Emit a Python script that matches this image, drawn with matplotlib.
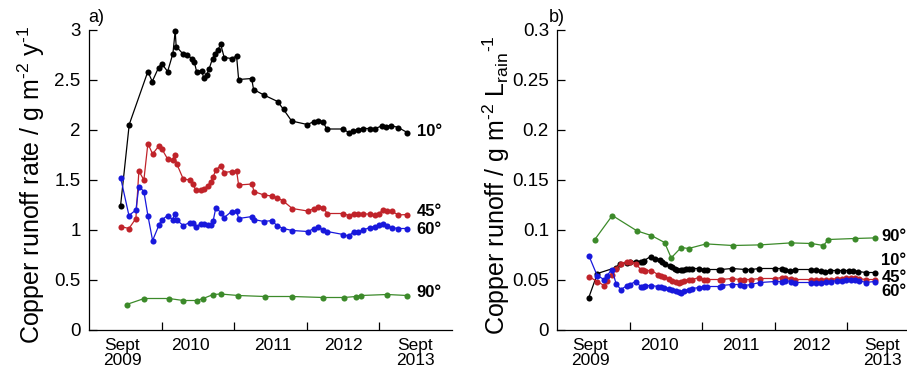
import matplotlib
matplotlib.use("Agg")
import matplotlib.pyplot as plt
from matplotlib.ticker import FixedLocator, FuncFormatter

plt.rcParams['font.family'] = ['Liberation Sans', 'DejaVu Sans']
plt.rcParams['mathtext.default'] = 'regular'
plt.rcParams['mathtext.fontset'] = 'custom'
plt.rcParams['mathtext.rm'] = 'Liberation Sans'

# ---------------- data ----------------
# dates as decimal years
dates_10 = [2009.435, 2009.554, 2009.811, 2009.871, 2009.959, 2010.000, 2010.083, 2010.156, 2010.187, 2010.201,
            2010.289, 2010.344, 2010.417, 2010.449, 2010.482, 2010.551, 2010.579, 2010.620, 2010.656, 2010.702,
            2010.734, 2010.776, 2010.813, 2010.862, 2010.964, 2011.033, 2011.061, 2011.240, 2011.267, 2011.409,
            2011.598, 2011.680, 2011.791, 2012.006, 2012.102, 2012.149, 2012.218, 2012.277, 2012.501, 2012.576,
            2012.639, 2012.700, 2012.769, 2012.869, 2012.942, 2013.030, 2013.090, 2013.158, 2013.259, 2013.383]
rate_10 = [1.24, 2.05, 2.58, 2.48, 2.62, 2.66, 2.58, 2.76, 2.985, 2.83,
           2.76, 2.75, 2.71, 2.68, 2.58, 2.59, 2.52, 2.545, 2.61, 2.71,
           2.76, 2.795, 2.855, 2.72, 2.71, 2.735, 2.50, 2.51, 2.40, 2.345,
           2.28, 2.20, 2.085, 2.05, 2.08, 2.09, 2.08, 2.005, 2.005, 1.97,
           1.985, 2.00, 2.01, 2.01, 2.01, 2.035, 2.03, 2.04, 2.02, 1.97]
runoff_10 = [0.032, 0.056, 0.062, 0.066, 0.067, 0.068, 0.068, 0.068, 0.068, 0.069,
             0.073, 0.071, 0.070, 0.068, 0.066, 0.064, 0.063, 0.061, 0.060, 0.060,
             0.060, 0.061, 0.061, 0.061, 0.061, 0.060, 0.060, 0.060, 0.060, 0.061,
             0.060, 0.060, 0.061, 0.061, 0.061, 0.060, 0.059, 0.060, 0.060, 0.060,
             0.059, 0.058, 0.059, 0.059, 0.059, 0.059, 0.059, 0.058, 0.057, 0.057]

dates_45_60 = [2009.435, 2009.550, 2009.646, 2009.687, 2009.756, 2009.811, 2009.876, 2009.967, 2010.000, 2010.083,
               2010.152, 2010.179, 2010.207, 2010.298, 2010.390, 2010.427, 2010.472, 2010.541, 2010.587, 2010.634,
               2010.679, 2010.711, 2010.748, 2010.813, 2010.862, 2010.964, 2011.033, 2011.061, 2011.248, 2011.271,
               2011.409, 2011.523, 2011.584, 2011.675, 2011.799, 2012.011, 2012.102, 2012.149, 2012.226, 2012.281,
               2012.501, 2012.576, 2012.649, 2012.708, 2012.777, 2012.869, 2012.938, 2012.993, 2013.052, 2013.107,
               2013.168, 2013.259, 2013.383]
rate_45 = [1.03, 1.01, 1.11, 1.585, 1.495, 1.86, 1.755, 1.84, 1.81, 1.705,
           1.695, 1.745, 1.66, 1.505, 1.495, 1.455, 1.395, 1.40, 1.41, 1.435,
           1.48, 1.53, 1.595, 1.64, 1.57, 1.58, 1.585, 1.445, 1.455, 1.38,
           1.345, 1.335, 1.32, 1.285, 1.21, 1.185, 1.21, 1.23, 1.22, 1.16,
           1.16, 1.14, 1.16, 1.16, 1.155, 1.155, 1.145, 1.16, 1.195, 1.185,
           1.185, 1.145, 1.15]
runoff_45 = [0.053, 0.048, 0.044, 0.049, 0.055, 0.061, 0.066, 0.068, 0.068, 0.066,
             0.060, 0.060, 0.059, 0.059, 0.055, 0.054, 0.053, 0.051, 0.049, 0.048,
             0.047, 0.048, 0.049, 0.050, 0.050, 0.052, 0.050, 0.050, 0.050, 0.050,
             0.051, 0.050, 0.050, 0.050, 0.051, 0.051, 0.052, 0.052, 0.051, 0.050,
             0.050, 0.050, 0.050, 0.050, 0.050, 0.051, 0.051, 0.052, 0.052, 0.052,
             0.051, 0.050, 0.050]
rate_60 = [1.52, 1.14, 1.195, 1.43, 1.38, 1.14, 0.89, 1.05, 1.095, 1.14,
           1.10, 1.155, 1.095, 1.04, 1.07, 1.07, 1.03, 1.055, 1.055, 1.045,
           1.045, 1.09, 1.22, 1.17, 1.12, 1.18, 1.185, 1.11, 1.13, 1.10,
           1.08, 1.09, 1.04, 1.01, 0.99, 0.98, 1.01, 1.03, 0.995, 0.98,
           0.95, 0.935, 0.98, 0.98, 0.995, 1.02, 1.03, 1.045, 1.06, 1.035,
           1.02, 1.01, 1.01]
runoff_60 = [0.074, 0.054, 0.050, 0.054, 0.060, 0.046, 0.040, 0.044, 0.045, 0.048,
             0.043, 0.043, 0.044, 0.044, 0.043, 0.043, 0.042, 0.041, 0.040, 0.039,
             0.038, 0.037, 0.039, 0.040, 0.041, 0.042, 0.043, 0.043, 0.043, 0.044,
             0.045, 0.045, 0.044, 0.045, 0.047, 0.048, 0.048, 0.049, 0.048, 0.047,
             0.047, 0.047, 0.047, 0.048, 0.048, 0.049, 0.049, 0.050, 0.050, 0.050,
             0.049, 0.047, 0.048]

dates_90 = [2009.518, 2009.760, 2010.101, 2010.298, 2010.482, 2010.573, 2010.711, 2010.813, 2011.055,
            2011.423, 2011.799, 2012.226, 2012.511, 2012.676, 2012.745, 2013.107, 2013.383]
rate_90 = [0.25, 0.31, 0.31, 0.29, 0.29, 0.31, 0.35, 0.355, 0.34, 0.33, 0.33, 0.32, 0.32, 0.33, 0.34, 0.35, 0.34]
runoff_90 = [0.090, 0.114, 0.0986, 0.094, 0.087, 0.0716, 0.082, 0.081, 0.0856, 0.084, 0.0846, 0.0866,
             0.086, 0.084, 0.090, 0.091, 0.0916]

series_names = ['10°', '45°', '60°', '90°']
x_label_texts = ['Sept\n2009', '2010', '2011', '2012', 'Sept\n2013']
x_label_pos = [2009.454, 2010.404, 2011.533, 2012.511, 2013.49]
year_ticks = [2010, 2011, 2012, 2013]

# ---------------- style ----------------
colors = {'10°': '#000000', '45°': '#c0232a', '60°': '#1818dc', '90°': '#3c8a2a'}
W, H = 907, 376
fig = plt.figure(figsize=(W / 100, H / 100), dpi=100)

def fx(px):
    return px / W

def fy(py):
    return 1 - py / H

ax_a = fig.add_axes([fx(89), fy(329.5), fx(363), 300 / H])
ax_b = fig.add_axes([fx(557.3), fy(329.5), fx(362), 300 / H])

panels = [
    (ax_a, [rate_10, rate_45, rate_60, rate_90], (0, 3), [0, 0.5, 1, 1.5, 2, 2.5, 3],
     r'Copper runoff rate / g m$^{\text{-}2}$ y$^{\text{-}1}$', 'a)', 88,
     [1.975, 1.185, 0.995, 0.368], 2013.512, 31),
    (ax_b, [runoff_10, runoff_45, runoff_60, runoff_90], (0, 0.3), [0, 0.05, 0.1, 0.15, 0.2, 0.25, 0.3],
     r'Copper runoff / g m$^{\text{-}2}$ L$_{\mathrm{rain}}$${}^{\text{-}1}$', 'b)', 549,
     [0.0686, 0.052, 0.0376, 0.0933], 2013.477, 496),
]
dates_list = [dates_10, dates_45_60, dates_45_60, dates_90]

for ax, vals, ylim, yticks, ylabel, tag, tagx, lab_y, lab_x, ylab_x in panels:
    for name, d, v in zip(series_names, dates_list, vals):
        ax.plot(d, v, '-o', color=colors[name], lw=0.9, ms=4.4, mew=0, zorder=3, clip_on=False)
    for name, ly in zip(series_names, lab_y):
        ax.text(lab_x, ly, name, fontsize=12, fontweight='bold', ha='left', va='center',
                clip_on=False)
    ax.set_xlim(2009, 2014)
    ax.set_ylim(*ylim)
    ax.spines['top'].set_visible(False)
    ax.spines['right'].set_visible(False)
    for s in ('left', 'bottom'):
        ax.spines[s].set_linewidth(0.9)
    ax.set_yticks(yticks)
    ax.yaxis.set_major_formatter(FuncFormatter(lambda v, p: '%g' % v))
    ax.tick_params(axis='y', direction='in', length=5.5, width=0.9, labelsize=13.5, pad=6)
    ax.xaxis.set_major_locator(FixedLocator(year_ticks))
    ax.xaxis.set_major_formatter(FuncFormatter(lambda v, p: ''))
    ax.xaxis.set_minor_locator(FixedLocator(x_label_pos))
    ax.set_xticklabels(x_label_texts, minor=True)
    ax.tick_params(axis='x', which='major', direction='in', length=5.5, width=0.9)
    ax.tick_params(axis='x', which='minor', length=0, labelsize=12.5, pad=6)
    for t in ax.xaxis.get_minorticklabels():
        t.set_linespacing(1.0)
    fig.text(fx(ylab_x), fy(185), ylabel, rotation=90, fontsize=18, ha='center', va='center')
    fig.text(fx(tagx), fy(17), tag, fontsize=13, ha='left', va='center')

fig.savefig('out.png', dpi=100)
